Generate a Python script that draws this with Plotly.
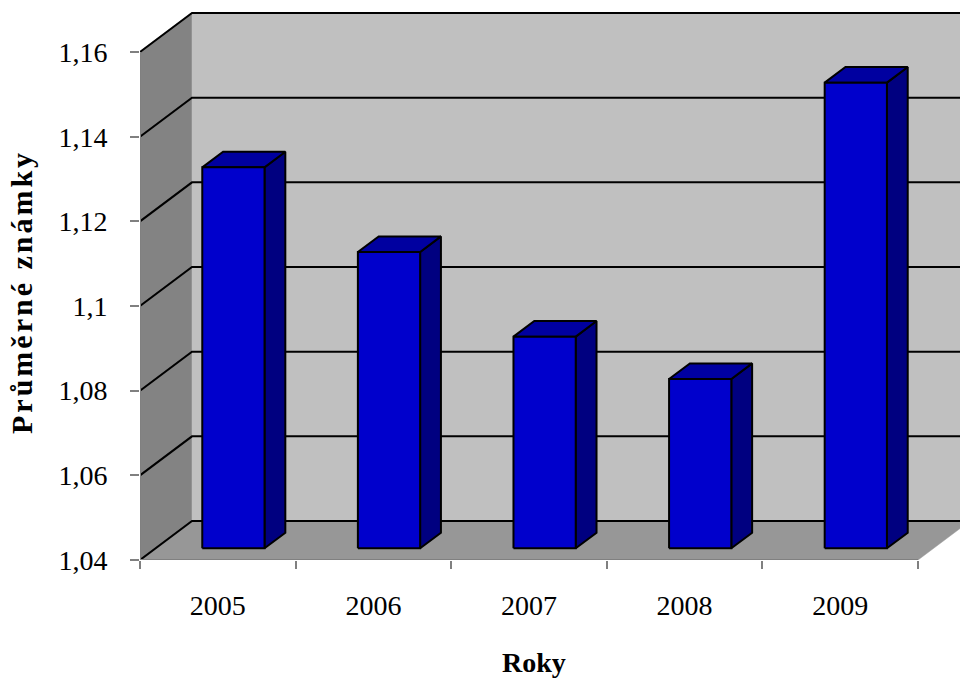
import plotly.graph_objects as go

# Average marks per year
years = ["2005", "2006", "2007", "2008", "2009"]
values = [1.13, 1.11, 1.09, 1.08, 1.15]

# Value axis ticks
y_ticks = [1.04, 1.06, 1.08, 1.10, 1.12, 1.14, 1.16]
y_tick_labels = ["1,04", "1,06", "1,08", "1,1", "1,12", "1,14", "1,16"]

# --- geometry of the pseudo-3D box (in axis units) ---
Y_MIN, Y_MAX = y_ticks[0], y_ticks[-1]
CAT_PX = 155.6            # pixels per category
VAL_PX = 4233.0           # pixels per value unit
PLOT_W, PLOT_H = 820, 550
DX = 52 / CAT_PX          # full depth, horizontal component
DY = 39 / VAL_PX          # full depth, vertical component
BAR_HALF = 0.2            # half bar width (gap width 150 %)
D_FRONT, D_BACK = 0.3, 0.7  # depth span of the bars

x_lo = -0.5
x_hi = x_lo + PLOT_W / CAT_PX
y_lo = Y_MIN
y_hi = Y_MIN + PLOT_H / VAL_PX
n = len(years)
left_edge, right_edge = -0.5, n - 0.5

WALL = "#c0c0c0"
SIDE_WALL = "#838383"
FLOOR = "#979797"
AXIS_GREY = "#808080"

fig = go.Figure()


def poly(xs, ys, fill, line_color="black", width=2):
    fig.add_trace(go.Scatter(
        x=list(xs) + [xs[0]], y=list(ys) + [ys[0]],
        mode="lines", fill="toself", fillcolor=fill,
        line=dict(color=line_color, width=width),
        hoverinfo="skip", showlegend=False))


# floor
poly([left_edge, right_edge, right_edge + DX, left_edge + DX],
     [Y_MIN, Y_MIN, Y_MIN + DY, Y_MIN + DY], FLOOR, line_color=FLOOR, width=0.5)
# left side wall
poly([left_edge, left_edge, left_edge + DX, left_edge + DX],
     [Y_MIN, Y_MAX, Y_MAX + DY, Y_MIN + DY], SIDE_WALL, line_color=SIDE_WALL, width=0.5)
# back wall
poly([left_edge + DX, right_edge + DX, right_edge + DX, left_edge + DX],
     [Y_MIN + DY, Y_MIN + DY, Y_MAX + DY, Y_MAX + DY], WALL, line_color=WALL, width=0.5)

# gridlines: diagonal on the side wall, horizontal on the back wall
gx, gy = [], []
for v in y_ticks:
    gx += [left_edge, left_edge + DX, right_edge + DX, None]
    gy += [v, v + DY, v + DY, None]
fig.add_trace(go.Scatter(x=gx, y=gy, mode="lines",
                         line=dict(color="black", width=2),
                         hoverinfo="skip", showlegend=False))

# front axis lines
fig.add_trace(go.Scatter(x=[left_edge, left_edge, None, left_edge, right_edge],
                         y=[Y_MAX, Y_MIN, None, Y_MIN, Y_MIN], mode="lines",
                         line=dict(color=AXIS_GREY, width=2),
                         hoverinfo="skip", showlegend=False))

# bars
FRONT, TOP, SIDE = "#0000cc", "#0000a0", "#000080"
bdx = (D_BACK - D_FRONT) * DX
bdy = (D_BACK - D_FRONT) * DY
for i, v in enumerate(values):
    x0 = i - BAR_HALF + D_FRONT * DX
    x1 = i + BAR_HALF + D_FRONT * DX
    b0 = Y_MIN + D_FRONT * DY
    t0 = v + D_FRONT * DY
    # side face
    poly([x1, x1 + bdx, x1 + bdx, x1], [b0, b0 + bdy, t0 + bdy, t0], SIDE)
    # top face
    poly([x0, x1, x1 + bdx, x0 + bdx], [t0, t0, t0 + bdy, t0 + bdy], TOP)
    # front face
    poly([x0, x1, x1, x0], [b0, b0, t0, t0], FRONT)

SERIF = "Liberation Serif"

fig.update_layout(
    width=960, height=678,
    margin=dict(l=140, r=0, t=10, b=118),
    paper_bgcolor="white", plot_bgcolor="white",
    showlegend=False,
    xaxis=dict(
        range=[x_lo, x_hi], showgrid=False, zeroline=False, showline=False,
        tickmode="array", tickvals=list(range(n)), ticktext=years,
        ticks="", ticklabelstandoff=26,
        tickfont=dict(family=SERIF, size=28, color="black"),
        minor=dict(tickmode="array", tickvals=[k - 0.5 for k in range(n + 1)],
                   ticks="outside", ticklen=8, tickwidth=2,
                   tickcolor=AXIS_GREY, showgrid=False),
        fixedrange=True),
    yaxis=dict(
        range=[y_lo, y_hi], showgrid=False, zeroline=False, showline=False,
        tickmode="array", tickvals=y_ticks, ticktext=y_tick_labels,
        ticks="outside", ticklen=9, tickwidth=2, tickcolor=AXIS_GREY,
        ticklabelstandoff=17,
        tickfont=dict(family=SERIF, size=28, color="black"),
        fixedrange=True),
    annotations=[
        dict(text='<span style="letter-spacing:3px">Průměrné známky</span>',
             xref="paper", yref="paper", x=0, y=(560 - 292) / PLOT_H,
             xshift=-119, textangle=-90, showarrow=False,
             xanchor="center", yanchor="middle",
             font=dict(family=SERIF, size=30, color="black", weight="bold")),
        dict(text="Roky", xref="x", yref="paper", x=2.03,
             y=(560 - 662) / PLOT_H, showarrow=False,
             xanchor="center", yanchor="middle",
             font=dict(family=SERIF, size=28, color="black", weight="bold")),
    ],
)

fig.write_html("out.html")
